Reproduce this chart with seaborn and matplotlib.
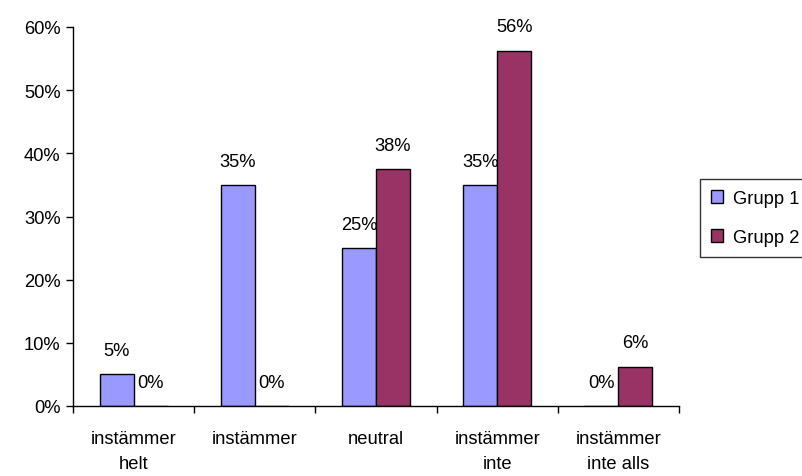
import numpy as np
import pandas as pd
import matplotlib
matplotlib.use("Agg")
import matplotlib.pyplot as plt
import seaborn as sns
from matplotlib.ticker import FixedLocator, NullFormatter
from decimal import Decimal, ROUND_HALF_UP

categories = ["instämmer\nhelt", "instämmer", "neutral", "instämmer\ninte", "instämmer\ninte alls"]
series_names = ["Grupp 1", "Grupp 2"]
grupp1 = [5.0, 35.0, 25.0, 35.0, 0.0]
grupp2 = [0.0, 0.0, 37.5, 56.25, 6.25]
y_ticks = [0, 10, 20, 30, 40, 50, 60]
y_tick_labels = ["0%", "10%", "20%", "30%", "40%", "50%", "60%"]
colors = ["#9999FF", "#993366"]

df = pd.DataFrame({
    "kategori": categories * 2,
    "grupp": [series_names[0]] * len(categories) + [series_names[1]] * len(categories),
    "andel": grupp1 + grupp2,
})

sns.set_style("white")
plt.rcParams["font.family"] = ["Liberation Sans", "DejaVu Sans"]
plt.rcParams["text.color"] = "black"
plt.rcParams["xtick.color"] = "black"
plt.rcParams["ytick.color"] = "black"
plt.rcParams["axes.labelcolor"] = "black"
FS = 13.2

fig = plt.figure(figsize=(8.03, 4.77), dpi=100)
ax = fig.add_axes([73 / 803, 1 - 407 / 477, (679 - 73) / 803, (407 - 28) / 477])

sns.barplot(data=df, x="kategori", y="andel", hue="grupp", palette=colors,
            width=0.56, edgecolor="black", linewidth=1.0, saturation=1,
            ax=ax, legend=True)


def pct(v):
    return str(Decimal(str(v)).quantize(Decimal("1"), rounding=ROUND_HALF_UP)) + "%"


for cont in ax.containers:
    ax.bar_label(cont, labels=[pct(b.get_height()) for b in cont],
                 padding=11, fontsize=FS, color="black")

ax.set_ylim(0, 60)
ax.set_xlim(-0.5, len(categories) - 0.5)
ax.set_yticks(y_ticks)
ax.set_yticklabels(y_tick_labels, fontsize=FS)

# Category labels at centers, tick marks on boundaries
ax.xaxis.set_major_locator(FixedLocator(np.arange(-0.5, len(categories), 1.0)))
ax.xaxis.set_major_formatter(NullFormatter())
ax.xaxis.set_minor_locator(FixedLocator(np.arange(len(categories))))
ax.set_xticklabels(categories, minor=True, fontsize=FS, linespacing=1.65)
ax.tick_params(axis="x", which="major", direction="out", length=5, width=1, color="black", bottom=True)
ax.tick_params(axis="x", which="minor", length=0, pad=17)
ax.tick_params(axis="y", direction="out", length=5, width=1, color="black", left=True, pad=4, labelcolor="black")

ax.set_xlabel("")
ax.set_ylabel("")
for side in ["top", "right"]:
    ax.spines[side].set_visible(False)
for side in ["left", "bottom"]:
    ax.spines[side].set_color("black")
    ax.spines[side].set_linewidth(1)

handles, labels = ax.get_legend_handles_labels()
ax.get_legend().remove()
leg = fig.legend(handles, labels, loc="upper left", bbox_to_anchor=(700 / 803, 1 - 180 / 477),
                 frameon=True, fancybox=False, edgecolor="black", fontsize=FS,
                 handlelength=0.65, handleheight=0.65, handletextpad=0.55,
                 labelspacing=1.2, borderpad=0.6, borderaxespad=0)
leg.get_frame().set_linewidth(1)

fig.savefig("out.png", dpi=100, facecolor="white")
